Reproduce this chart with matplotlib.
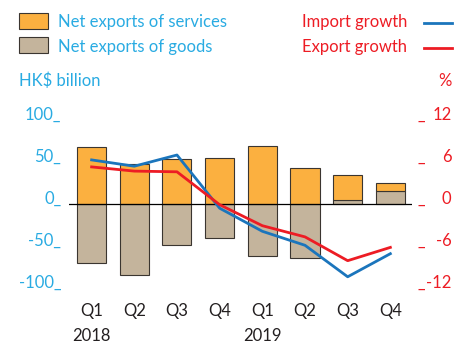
import matplotlib.pyplot as plt
from matplotlib.patches import Rectangle
from matplotlib.lines import Line2D
import numpy as np

plt.rcParams['font.family'] = ['Lato', 'DejaVu Sans']

quarters = ['Q1', 'Q2', 'Q3', 'Q4', 'Q1', 'Q2', 'Q3', 'Q4']
years = ['2018', '', '', '', '2019', '', '', '']
goods = [-70.6, -84.5, -48.8, -40.9, -61.5, -64.7, 4.8, 15.5]
services = [68.2, 47.6, 53.2, 55.1, 69.4, 42.9, 29.7, 9.1]
import_growth = [6.3, 5.4, 7.0, -0.6, -3.9, -5.9, -10.4, -7.1]
export_growth = [5.3, 4.7, 4.6, -0.1, -3.1, -4.7, -8.1, -6.2]
left_ticks = [100, 50, 0, -50, -100]
right_ticks = [12, 6, 0, -6, -12]

c_serv = '#FBB040'
c_goods = '#C4B49C'
c_lblue = '#29ABE2'
c_red = '#ED1C24'
c_blue = '#1B75BC'

W, H = 460, 343
fig = plt.figure(figsize=(W / 100, H / 100), dpi=100)
ax = fig.add_axes([69 / W, 1 - 294.7 / H, (411.7 - 69) / W, (294.7 - 113.3) / H])
ax2 = ax.twinx()

x = np.arange(len(quarters))
goods = np.array(goods)
services = np.array(services)
ax.bar(x, goods, width=0.68, color=c_goods, edgecolor='#3a3530', linewidth=0.8)
ax.bar(x, services, width=0.68, bottom=np.maximum(goods, 0), color=c_serv,
       edgecolor='#3a3530', linewidth=0.8)
ax.axhline(0, color='black', linewidth=0.9)
ax.set_xlim(-0.53, 7.5)
ax.set_ylim(-108, 108)
ax2.set_ylim(-108 * 0.12, 108 * 0.12)
ax2.plot(x, import_growth, color=c_blue, linewidth=2.0)
ax2.plot(x, export_growth, color=c_red, linewidth=2.0)

for a in (ax, ax2):
    a.axis('off')

for t in left_ticks:
    ax.text(-0.71, t, f'{t}_', color=c_lblue, fontsize=12, ha='right', va='baseline')
for t in right_ticks:
    ax2.text(7.63, t, '_', color=c_red, fontsize=12, ha='left', va='baseline')
    ax2.text(8.43, t, f'{t}', color=c_red, fontsize=12, ha='right', va='baseline')

for i, (q, y) in enumerate(zip(quarters, years)):
    ax.text(i, -127, q, fontsize=12, ha='center', va='center', color='#231F20')
    if y:
        ax.text(i, -157, y, fontsize=12, ha='center', va='center', color='#231F20')

# legend
fig.add_artist(Rectangle((19 / W, 1 - 29 / H), 29 / W, 16 / H, transform=fig.transFigure,
                         facecolor=c_serv, edgecolor='#3a3530', linewidth=0.8))
fig.add_artist(Rectangle((19 / W, 1 - 53 / H), 29 / W, 16 / H, transform=fig.transFigure,
                         facecolor=c_goods, edgecolor='#3a3530', linewidth=0.8))
fig.text(58 / W, 1 - 22 / H, 'Net exports of services', color=c_lblue, fontsize=12, va='center')
fig.text(58 / W, 1 - 47 / H, 'Net exports of goods', color=c_lblue, fontsize=12, va='center')
fig.text(407 / W, 1 - 22 / H, 'Import growth', color=c_red, fontsize=12, va='center', ha='right')
fig.text(407 / W, 1 - 47 / H, 'Export growth', color=c_red, fontsize=12, va='center', ha='right')
fig.add_artist(Line2D([424 / W, 452 / W], [1 - 23 / H, 1 - 23 / H], color=c_blue, linewidth=2.0))
fig.add_artist(Line2D([424 / W, 452 / W], [1 - 48 / H, 1 - 48 / H], color=c_red, linewidth=2.0))
fig.text(19 / W, 1 - 81 / H, 'HK$ billion', color=c_lblue, fontsize=12, va='center')
fig.text(452 / W, 1 - 81 / H, '%', color=c_red, fontsize=12, va='center', ha='right')

fig.savefig('out.png', dpi=100)
